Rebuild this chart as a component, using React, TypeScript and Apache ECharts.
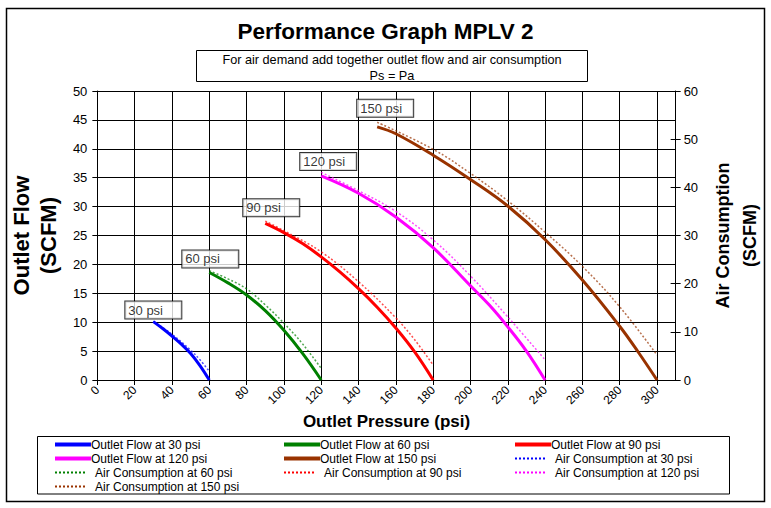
import React, { useEffect, useRef } from "react";
import * as echarts from "echarts";

// Supply pressures (psi)
const pressures = [30, 60, 90, 120, 150];
const colors = ["#0000FF", "#008000", "#FF0000", "#FF00FF", "#993300"];

// Outlet flow (SCFM, left axis) vs outlet pressure (psi)
const outletFlow30 = [[30, 10.1], [35, 8.9], [40, 7.6], [45, 6.2], [50, 4.6], [55, 2.5], [60, 0]];
const outletFlow60 = [[60, 18.6], [70, 16.8], [80, 14.7], [90, 12.0], [100, 8.6], [110, 4.6], [120, 0]];
const outletFlow90 = [[90, 27.1], [100, 25.5], [110, 23.6], [120, 21.3], [130, 18.7], [140, 15.8], [150, 12.6], [160, 9.0], [170, 4.9], [180, 0]];
const outletFlow120 = [[120, 35.3], [140, 32.3], [160, 28.2], [180, 22.9], [200, 16.3], [210, 13.0], [220, 9.2], [230, 5.0], [240, 0]];
const outletFlow150 = [[150, 43.8], [160, 42.6], [180, 38.9], [200, 34.7], [220, 30.1], [240, 24.3], [260, 17.3], [280, 9.3], [290, 4.8], [300, 0]];

// Air consumption (SCFM, right axis) vs outlet pressure (psi)
const airCons30 = [[30, 12.2], [40, 9.5], [50, 6.2], [55, 4.2], [60, 1.8]];
const airCons60 = [[60, 22.7], [70, 21.0], [80, 18.9], [90, 15.6], [100, 11.8], [110, 7.5], [120, 2.4]];
const airCons90 = [[90, 33.0], [100, 31.0], [120, 26.6], [140, 20.4], [160, 12.9], [170, 8.4], [180, 3.1]];
const airCons120 = [[120, 43.1], [140, 39.3], [160, 35.0], [180, 29.1], [200, 21.6], [220, 13.1], [240, 4.2]];
const airCons150 = [[150, 53.5], [180, 47.9], [200, 42.9], [220, 37.2], [240, 30.7], [260, 23.6], [280, 15.2], [300, 5.2]];

const flowSets = [outletFlow30, outletFlow60, outletFlow90, outletFlow120, outletFlow150];
const airSets = [airCons30, airCons60, airCons90, airCons120, airCons150];

const titleText = "Performance Graph MPLV 2";
const noteText = "For air demand add together outlet flow and air consumption\nPs = Pa";
const xTitle = "Outlet Pressure (psi)";
const yLeftTitle = "Outlet Flow\n(SCFM)";
const yRightTitle = "Air Consumption\n(SCFM)";

// label box placement (px, relative to first point of each outlet-flow curve)
const labelPos = [[-27, -19], [-26, -21], [-21, -23], [-20, -22], [-19, -26]];

const FONT = "Arial, 'Liberation Sans', sans-serif";

export default function App() {
  const ref = useRef<HTMLDivElement>(null);
  useEffect(() => {
    if (!ref.current) return;
    const chart = echarts.init(ref.current, undefined, { renderer: "svg" });

    const flowNames = pressures.map((p) => `Outlet Flow at ${p} psi`);
    const airNames = pressures.map((p) => `Air Consumption at ${p} psi`);

    const series: any[] = [];
    airSets.forEach((d, i) => {
      series.push({
        name: airNames[i],
        type: "line",
        yAxisIndex: 1,
        data: d,
        smooth: 0.4,
        symbol: "none",
        lineStyle: { color: colors[i], width: 1.5, type: [2, 2], opacity: 0.7 },
        z: 3,
      });
    });
    flowSets.forEach((d, i) => {
      series.push({
        name: flowNames[i],
        type: "line",
        yAxisIndex: 0,
        data: d,
        smooth: 0.4,
        symbol: "none",
        lineStyle: { color: colors[i], width: 3 },
        z: 4,
      });
    });
    series.push({
      name: "labels",
      type: "scatter",
      yAxisIndex: 0,
      symbolSize: 2,
      itemStyle: { color: "rgba(0,0,0,0)" },
      z: 6,
      data: flowSets.map((d, i) => ({
        value: d[0],
        label: { position: labelPos[i], formatter: `${pressures[i]} psi` },
      })),
      label: {
        show: true,
        color: "#000",
        fontSize: 13,
        fontFamily: FONT,
        backgroundColor: "#fff",
        borderColor: "#000",
        borderWidth: 1,
        padding: [1, 3, 1, 3],
        width: 50,
        lineHeight: 15,
      },
    });

    // Legend drawn as graphic
    const legendItems = [
      ...flowNames.map((n, i) => ({ name: n, color: colors[i], dotted: false })),
      ...airNames.map((n, i) => ({ name: n, color: colors[i], dotted: true })),
    ];
    const colX = [55, 284, 515];
    const rowY = [444.5, 458.5, 472.5, 486.5];
    const legendGraphics: any[] = [
      {
        type: "rect",
        shape: { x: 37.5, y: 436.5, width: 692, height: 57.5 },
        style: { fill: "#fff", stroke: "#000", lineWidth: 1 },
        z: 10,
      },
    ];
    legendItems.forEach((it, i) => {
      const x = colX[i % 3];
      const y = rowY[Math.floor(i / 3)];
      const len = it.dotted ? 30 : 36;
      legendGraphics.push({
        type: "line",
        shape: { x1: x, y1: y, x2: x + len, y2: y },
        style: {
          stroke: it.color,
          lineWidth: it.dotted ? 2 : 4,
          lineDash: it.dotted ? [2, 2] : null,
        },
        z: 11,
      });
      legendGraphics.push({
        type: "text",
        x: x + (it.dotted ? 40 : 36),
        y: y,
        style: {
          text: it.name,
          fill: "#000",
          font: `12px ${FONT}`,
          lineHeight: 12,
          textAlign: "left",
          textVerticalAlign: "middle",
        },
        z: 11,
      });
    });

    const option: any = {
      animation: false,
      backgroundColor: "#fff",
      textStyle: { fontFamily: FONT },
      title: {
        text: titleText,
        left: "center",
        top: 15,
        textStyle: { fontSize: 22.5, fontWeight: "bold", color: "#000", fontFamily: FONT },
      },
      grid: { left: 95, top: 91, right: 93, bottom: 128, containLabel: false },
      xAxis: {
        type: "value",
        min: 0,
        max: 310,
        interval: 20,
        axisLine: { show: true, lineStyle: { color: "#000", width: 1 } },
        axisTick: { show: true, length: 5, lineStyle: { color: "#000" } },
        axisLabel: {
          rotate: 45,
          fontSize: 12,
          color: "#000",
          margin: 8,
          showMaxLabel: false,
          fontFamily: FONT,
        },
        splitLine: { show: true, lineStyle: { color: "#000", width: 1 } },
        name: xTitle,
        nameLocation: "middle",
        nameGap: 32,
        nameTextStyle: { fontSize: 17, fontWeight: "bold", color: "#000", fontFamily: FONT },
      },
      yAxis: [
        {
          type: "value",
          position: "left",
          min: 0,
          max: 50,
          interval: 5,
          axisLine: { show: true, lineStyle: { color: "#000", width: 1 } },
          axisTick: { show: true, length: 5, lineStyle: { color: "#000" } },
          axisLabel: { fontSize: 13, color: "#000", margin: 10, fontFamily: FONT },
          splitLine: { show: true, lineStyle: { color: "#000", width: 1 } },
          name: yLeftTitle,
          nameLocation: "middle",
          nameRotate: 90,
          nameGap: 34,
          nameTextStyle: { fontSize: 22, fontWeight: "bold", color: "#000", lineHeight: 27, fontFamily: FONT },
        },
        {
          type: "value",
          position: "right",
          min: 0,
          max: 60,
          interval: 10,
          axisLine: { show: true, lineStyle: { color: "#000", width: 1 } },
          axisTick: { show: true, length: 5, lineStyle: { color: "#000" } },
          axisLabel: { fontSize: 13, color: "#000", margin: 8, fontFamily: FONT },
          splitLine: { show: false },
          name: yRightTitle,
          nameLocation: "middle",
          nameRotate: 90,
          nameGap: 25,
          nameTextStyle: { fontSize: 18, fontWeight: "bold", color: "#000", lineHeight: 27, fontFamily: FONT },
        },
        {
          type: "value",
          position: "right",
          min: 0,
          max: 60,
          interval: 10,
          axisLine: { show: false },
          axisTick: { show: true, inside: true, length: 5, lineStyle: { color: "#000" } },
          axisLabel: { show: false },
          splitLine: { show: false },
        },
      ],
      series,
      graphic: [
        {
          type: "rect",
          shape: { x: 6.5, y: 8.5, width: 758, height: 493 },
          style: { fill: "none", stroke: "#000", lineWidth: 1.5 },
          z: 0,
          silent: true,
        },
        {
          type: "rect",
          shape: { x: 196.5, y: 50.5, width: 391, height: 31 },
          style: { fill: "#fff", stroke: "#000", lineWidth: 1 },
          z: 10,
        },
        {
          type: "text",
          x: 392,
          y: 67.5,
          style: {
            text: noteText,
            fill: "#000",
            font: `12.7px ${FONT}`,
            lineHeight: 16,
            textAlign: "center",
            textVerticalAlign: "middle",
          },
          z: 11,
        },
        ...legendGraphics,
      ],
    };
    chart.setOption(option);
    return () => chart.dispose();
  }, []);
  return (
    <div
      ref={ref}
      style={{ position: "fixed", left: 0, top: 0, width: 771, height: 508, background: "#fff" }}
    />
  );
}
